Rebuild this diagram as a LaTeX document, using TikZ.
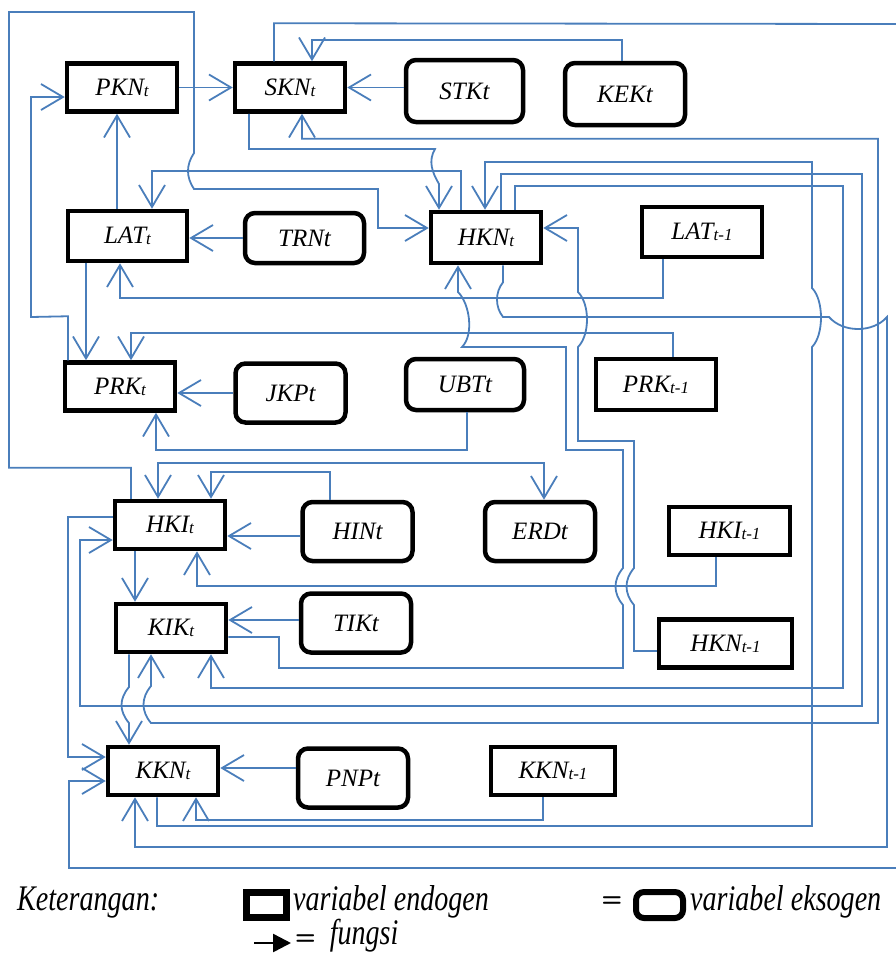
\documentclass[tikz,border=0pt]{standalone}
\usepackage{fontspec}
\setmainfont{Liberation Serif}
\newfontfamily\legendfont[FakeStretch=0.78]{Liberation Serif}
\usepackage{tikz}
\usetikzlibrary{arrows.meta}
\definecolor{linkblue}{RGB}{74,126,187}
\newcommand{\tsub}[1]{\raisebox{-1pt}{\fontsize{17}{17}\selectfont #1}}
\tikzset{
  var endo/.style={
    rectangle,
    minimum width=110pt,
    minimum height=48pt,
    line width=4.5pt,
    draw=black,
    font=\itshape\fontsize{25}{28}\selectfont,
    inner sep=0pt,
  },
  var exo/.style={
    var endo,
    rounded corners=10pt,
    minimum height=59pt,
  },
  fn link/.style={->, draw=linkblue, line width=1.8pt},
  legend text/.style={anchor=west, font=\legendfont\itshape\fontsize{36}{40}\selectfont, inner sep=0pt},
  >={Straight Barb[length=22pt,width=26pt]},
}

\begin{document}
\begin{tikzpicture}[x=1pt, y=-1pt]
  \useasboundingbox (0,0) rectangle (896,954);
  % variables
  \node[var endo] (pkn) at (122,87.5) {PKN\tsub{t}};
  \node[var endo] (skn) at (290,87.5) {SKN\tsub{t}};
  \node[var exo, minimum width=117pt, minimum height=62pt] (stk) at (464.5,91) {STKt};
  \node[var exo, minimum width=120pt, minimum height=62pt] (kek) at (625,94) {KEKt};
  \node[var endo, minimum width=119pt, minimum height=50pt] (lat) at (127.5,236) {LAT\tsub{t}};
  \node[var exo, minimum width=119pt, minimum height=50pt] (trn) at (304.5,238) {TRNt};
  \node[var endo, minimum height=51pt] (hkn) at (486,237.5) {HKN\tsub{t}};
  \node[var endo, minimum width=120pt, minimum height=50pt] (lat1) at (702,232) {LAT\tsub{t-1}};
  \node[var endo] (prk) at (120,386.5) {PRK\tsub{t}};
  \node[var exo] (jkp) at (290.5,393) {JKPt};
  \node[var exo, minimum width=118pt, minimum height=51pt] (ubt) at (465,384.5) {UBTt};
  \node[var endo, minimum width=120pt, minimum height=51pt] (prk1) at (656,384.5) {PRK\tsub{t-1}};
  \node[var endo] (hki) at (170,525) {HKI\tsub{t}};
  \node[var exo] (hin) at (357.5,531.5) {HINt};
  \node[var exo] (erd) at (540,531.5) {ERDt};
  \node[var endo, minimum width=121pt] (hki1) at (729.5,531) {HKI\tsub{t-1}};
  \node[var endo] (kik) at (171,628) {KIK\tsub{t}};
  \node[var exo] (tik) at (356,623) {TIKt};
  \node[var endo, minimum width=133pt] (hkn1) at (725.5,643.5) {HKN\tsub{t-1}};
  \node[var endo] (kkn) at (163,771) {KKN\tsub{t}};
  \node[var exo] (pnp) at (353,778) {PNPt};
  \node[var endo, minimum width=124pt] (kkn1) at (553,771) {KKN\tsub{t-1}};

  % functions
  \draw[fn link] (pkn.east) -- (skn.west);
  \draw[fn link] (stk.west |- skn.east) -- (skn.east);
  \draw[fn link] ([xshift=-3pt]kek.north) -- ++(0,-21) -| ([xshift=22pt]skn.north);
  \draw[fn link] ([xshift=-16pt]skn.north) -- ++(0,-38) -- (905,24) -- (905,868) -- (69,868) |- ([yshift=-10pt]kkn.west);
  \draw[fn link] ([xshift=-41pt]skn.south) |- (435,149) .. controls +(-7,12) and +(-7,-12) .. (439,184) -- ([xshift=-47pt]hkn.north);
  \draw[fn link, <->] ([xshift=12pt]skn.south) -- ++(0,25) -| (878,723) -- (151,723) .. controls +(-10,-12) and +(-10,12) .. (151,686) -- ([xshift=-20pt]kik.south);
  \draw[fn link] ([xshift=-25pt]hkn.north) -- ++(0,-39) -| ([xshift=24.5pt]lat.north);
  \draw[fn link] ([xshift=-39pt]hki.north) -- ++(0,-31) -| (9,12) -- (194,12) -- (194,153) .. controls +(-8,12) and +(-8,-12) .. (194,189) -- (378,189) |- ([yshift=9.5pt]hkn.west);
  \draw[fn link] ([xshift=-52pt]prk.north) -- ++(0,-44) -- (31,317) |- ([yshift=-9.5pt]pkn.west);
  \draw[fn link] ([xshift=-10.5pt]lat.north) -- ([xshift=-5pt]pkn.south);
  \draw[fn link] (trn.west) -- (trn.west -| lat.east);
  \draw[fn link] ([xshift=-41.5pt]lat.south) -- ([xshift=-34pt]prk.north);
  \draw[fn link] ([xshift=-39pt]lat1.south) -- ++(0,39) -| ([xshift=-7.5pt]lat.south);
  \draw[fn link] ([xshift=17pt]hkn.south) -- ++(0,17) .. controls +(-8,10) and +(-8,-10) .. (503,317) -- (829,317) .. controls +(14,16) and +(-14,16) .. (887,317) -- (887,847) -| ([xshift=-28pt]kkn.south);
  \draw[fn link] ([xshift=-6pt]kkn.south) |- (812,826) -- (812,347) .. controls +(12,-12) and +(12,12) .. (812,288) -- (812,162) -| ([xshift=-1pt]hkn.north);
  \draw[fn link] ([xshift=15pt]hkn.north) -- ++(0,-36) -| (862,706) -- (80,706) |- ([yshift=-15pt]hki.west);
  \draw[fn link] ([xshift=29pt]hkn.north) -- ++(0,-24) -| (843,688) -| ([xshift=40pt]kik.south);
  \draw[fn link] ([xshift=-42pt]kik.south) -- (129,687) .. controls +(-10,12) and +(-10,-12) .. (129,723) -- ([xshift=-34pt]kkn.north);
  \draw[fn link] ([xshift=-35pt]hki.south) -- ([xshift=-36pt]kik.north);
  \draw[fn link] ([yshift=3pt]tik.west) -- ([yshift=8pt]kik.east);
  \draw[fn link] ([yshift=-9pt]kik.east) -| (279,668) -| (623,605) .. controls +(-10,-12) and +(-10,12) .. (623,568) |- (566,450) |- (462,347) .. controls +(12,-12) and +(12,12) .. (458,292) -- ([xshift=-28pt]hkn.south);
  \draw[fn link] ([yshift=-7.5pt]hkn1.west) -| (634,605) .. controls +(-10,-12) and +(-10,12) .. (634,568) |- (578,441) -- (578,347) .. controls +(12,-12) and +(12,12) .. (578,292) |- ([yshift=9.5pt]hkn.east);
  \draw[fn link] ([xshift=17pt]prk1.north) -- ++(0,-24) -| ([xshift=11pt]prk.north);
  \draw[fn link] (jkp.west) -- (jkp.west -| prk.east);
  \draw[fn link] ([xshift=2pt]ubt.south) -- ++(0,38) -| ([xshift=36pt]prk.south);
  \draw[fn link, <->] ([xshift=-12pt]hki.north) -- ++(0,-36) -| ([xshift=4pt]erd.north);
  \draw[fn link] ([yshift=-4.5pt]hin.west) -- ([yshift=-11pt]hki.east);
  \draw[fn link] ([xshift=-27.5pt]hin.north) -- ++(0,-28) -| ([xshift=41pt]hki.north);
  \draw[fn link] ([yshift=8pt]hki.west) -- ++(-45,0) |- ([yshift=14pt]kkn.west);
  \draw[fn link] ([xshift=-13.5pt]hki1.south) -- ++(0,29) -| ([xshift=27pt]hki.south);
  \draw[fn link] ([yshift=10pt]pnp.west) -- ([yshift=3pt]kkn.east);
  \draw[fn link] ([xshift=-10pt]kkn1.south) -- ++(0,23) -| ([xshift=33pt]kkn.south);

  % legend
  \node[legend text] (keter) at (17,903) {Keterangan:};
  \node[var endo, minimum width=40pt, minimum height=25pt, line width=7pt] (lgendo) at (266,904.5) {};
  \node[legend text] (lgendotxt) at (293,902) {variabel endogen};
  \node[font=\sffamily\bfseries\fontsize{24}{24}\selectfont] (lgeq) at (612,902) {=};
  \node[var exo, minimum width=47pt, minimum height=26pt, line width=6pt, rounded corners=8pt] (lgexo) at (659.5,905) {};
  \node[legend text] (lgexotxt) at (690,902) {variabel eksogen};
  \coordinate (lgfrom) at (254,943);
  \coordinate (lgto) at (291,943);
  \draw[-{Triangle[length=18pt,width=18pt]}, line width=2.5pt] (lgfrom) -- (lgto);
  \node[legend text] (lgfn) at (295,936) {{\sffamily\bfseries\upshape\fontsize{24}{24}\selectfont =}\ \ fungsi};
\end{tikzpicture}
\end{document}
